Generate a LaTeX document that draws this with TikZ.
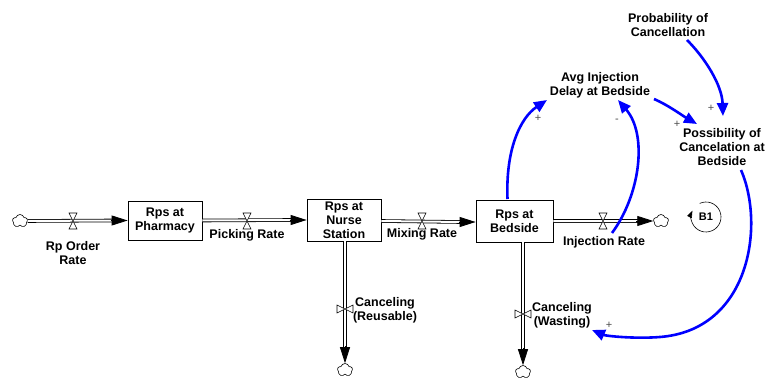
\documentclass[tikz,border=0pt]{standalone}
\usepackage{fontspec}
\setmainfont{Liberation Sans}
\usetikzlibrary{arrows.meta,shapes.symbols}
\newcommand\lblfont{\fontsize{12.5}{14}\selectfont\bfseries}
\tikzset{
  stock/.style={draw, line width=0.8pt, minimum width=74pt, minimum height=40pt, align=center, inner sep=1pt, font=\lblfont},
  lbl/.style={align=center, font=\lblfont, inner sep=0pt},
  pipe/.style={draw, line width=0.8pt, double=white, double distance=2pt},
  pipehead/.style={-{Triangle[length=16pt,width=10pt]}, line width=0.8pt},
  link/.style={draw=blue, line width=2.6pt, -{Triangle[length=13pt,width=11pt]}},
  sign/.style={font=\fontsize{11}{11}\selectfont, inner sep=0pt, text=black!70},
  cloudy/.style={cloud, cloud puffs=5, cloud puff arc=150, draw, line width=0.6pt, minimum width=15pt, minimum height=13pt, inner sep=0pt, fill=white},
  valve/.pic={\draw[line width=0.6pt, fill=white] (-4,-8) -- (4,-8) -- (-4,8) -- (4,8) -- cycle;}
}
\begin{document}
\begin{tikzpicture}[x=1pt,y=-1pt]
\useasboundingbox (0,0) rectangle (776,382);
% stocks
\node[stock, minimum width=74pt, minimum height=39pt] (pharm) at (165,220.5) {Rps at\\Pharmacy};
\node[stock, minimum width=74pt, minimum height=42pt] (nurse) at (344,220) {Rps at\\Nurse\\Station};
\node[stock, minimum width=77pt, minimum height=42pt] (bed) at (514.5,221) {Rps at\\Bedside};
% clouds
\node[cloudy] (c1) at (20,221) {};
\node[cloudy] (c2) at (661,221) {};
\node[cloudy] (c3) at (345,370) {};
\node[cloudy] (c4) at (523,372) {};
% pipes
\draw[pipe] (c1.east) -- ([shift={(-15,0)}]pharm.west);
\draw[pipehead] ([shift={(-17,0)}]pharm.west) -- (pharm.west);
\draw[pipe] (pharm.east) -- ([shift={(-15,0)}]nurse.west);
\draw[pipehead] ([shift={(-17,0)}]nurse.west) -- (nurse.west);
\draw[pipe] ([shift={(0,1)}]nurse.east) -- ([shift={(-15,1)}]bed.west);
\draw[pipehead] ([shift={(-17,1)}]bed.west) -- ([shift={(0,1)}]bed.west);
\draw[pipe] (bed.east) -- ([shift={(-15,0)}]c2.west);
\draw[pipehead] ([shift={(-17,0)}]c2.west) -- (c2.west);
\draw[pipe] ([shift={(1,0)}]nurse.south) -- ([shift={(0,-15)}]c3.north);
\draw[pipehead] ([shift={(0,-17)}]c3.north) -- (c3.north);
\draw[pipe] ([shift={(8.5,0)}]bed.south) -- ([shift={(0,-15)}]c4.north);
\draw[pipehead] ([shift={(0,-17)}]c4.north) -- (c4.north);
% valves
\pic at (73,221) {valve};
\pic at (247,221) {valve};
\pic at (422,221) {valve};
\pic at (603,221) {valve};
\pic[rotate=90] at (345,309) {valve};
\pic[rotate=90] at (523,314) {valve};
% rate labels
\node[lbl] (rpo) at (73,253) {Rp Order\\Rate};
\node[lbl] (pick) at (247,235) {Picking Rate};
\node[lbl] (mix) at (422,234) {Mixing Rate};
\node[lbl] (inj) at (604,242) {Injection Rate};
\node[lbl] (reus) at (385,310) {Canceling\\(Reusable)};
\node[lbl] (wast) at (562,315) {Canceling\\(Wasting)};
% auxiliaries
\node[lbl] (avg) at (600,85) {Avg Injection\\Delay at Bedside};
\node[lbl] (prob) at (668,25) {Probability of\\Cancellation};
\node[lbl] (poss) at (722,147) {Possibility of\\Cancelation at\\Bedside};
% links
\draw[link] ([shift={(-7,-22)}]bed.center) .. controls +(-2,-49) and +(-27,18) .. ([shift={(-53,15)}]avg.center);
\draw[link] ([shift={(8,-9)}]inj.center) .. controls +(28,-38) and +(30,35) .. ([shift={(18,15)}]avg.center);
\draw[link] ([shift={(54,14)}]avg.center) .. controls +(14,6) and +(-14,-8) .. ([shift={(-25,-23)}]poss.center);
\draw[link] ([shift={(19,15)}]prob.center) .. controls +(18,18) and +(-1,-31) .. ([shift={(1,-31)}]poss.center);
\coordinate (w1) at (660,337);
\draw[link] ([shift={(19,23)}]poss.center) .. controls +(24,55) and +(90,-7) .. (w1) .. controls +(-25,2) and +(14,6) .. ([shift={(30,15)}]wast.center);
% polarity signs
\node[sign] (s1) at (538,118) {+};
\node[sign] (s2) at (617,121) {-};
\node[sign] (s3) at (677,124) {+};
\node[sign] (s4) at (711,108) {+};
\node[sign] (s5) at (609,325) {+};
% loop marker
\node[font=\fontsize{11}{11}\selectfont\bfseries, inner sep=0pt] (b1) at (706,217) {B1};
\draw[line width=0.6pt, -{Triangle[length=7pt,width=5pt]}] ([shift={(245:15)}]b1.center) arc[start angle=245, end angle=565, radius=15];
\end{tikzpicture}
\end{document}
